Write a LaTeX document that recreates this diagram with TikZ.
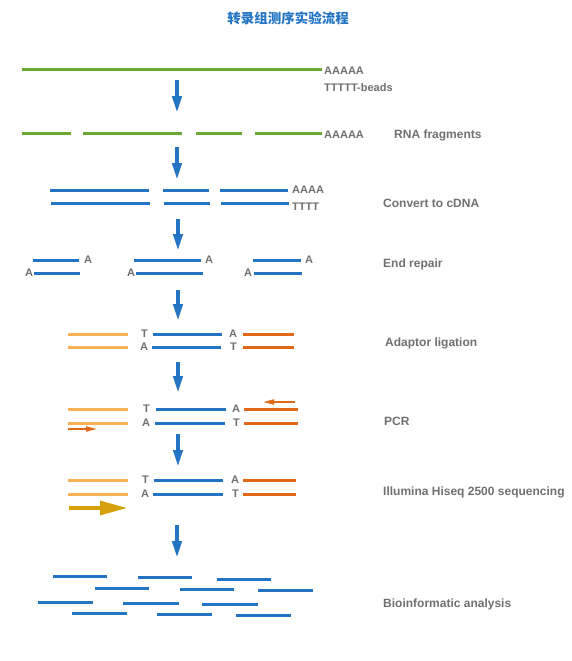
\documentclass[tikz,border=0pt]{standalone}
\usepackage{fontspec}
\setmainfont{Liberation Sans}
\newfontfamily\cjk{Noto Sans CJK SC}
\usetikzlibrary{arrows.meta}
\definecolor{rnagreen}{RGB}{104,168,52}
\definecolor{dnablue}{RGB}{36,116,196}
\definecolor{adlight}{RGB}{250,176,84}
\definecolor{addark}{RGB}{224,104,24}
\definecolor{seqgold}{RGB}{214,160,12}
\definecolor{txtgray}{RGB}{112,112,112}
\tikzset{
	rnaline/.style={draw=rnagreen, line width=3pt},
	dnaline/.style={draw=dnablue, line width=3pt},
	lightline/.style={draw=adlight, line width=3pt},
	darkline/.style={draw=addark, line width=3pt},
	lbl/.style={anchor=west, inner sep=0pt, text=txtgray, text height=7.9pt, text depth=0pt, font=\bfseries\fontsize{11}{13}\selectfont},
	steplbl/.style={lbl, text height=8.6pt, font=\bfseries\fontsize{12}{14}\selectfont},
	steparrow/.style={draw=dnablue, line width=3.8pt, -{Triangle[width=9pt,length=17pt]}},
	primer/.style={draw=addark, line width=1.8pt, -{Triangle[width=5pt,length=11pt]}},
}
\begin{document}
\begin{tikzpicture}[x=1pt, y=-1pt]
	\useasboundingbox (0,0) rectangle (572,661);
	\def\xs{383};
	\node[inner sep=0pt, text=dnablue, font=\cjk\bfseries\fontsize{13.5}{15}\selectfont] (title) at (288,18) {转录组测序实验流程};
	
	\draw[rnaline] (22,70) -- (322,70);
	\node[lbl] (polyA) at (324,71) {AAAAA};
	\node[lbl] (beads) at (324,88) {TTTTT-beads};
	
	\draw[rnaline] (22,133) -- (71,133);
	\draw[rnaline] (83,133) -- (182,133);
	\draw[rnaline] (196,133) -- (242,133);
	\draw[rnaline] (255,133) -- (322,133);
	\node[lbl] (fragA) at (324,135) {AAAAA};
	\node[steplbl] (frag) at (394,134) {RNA fragments};
	
	\draw[dnaline] (50,190) -- (149,190);
	\draw[dnaline] (163,190) -- (209,190);
	\draw[dnaline] (220,190) -- (288,190);
	\draw[dnaline] (51,203) -- (150,203);
	\draw[dnaline] (164,203) -- (210,203);
	\draw[dnaline] (221,203) -- (289,203);
	\node[lbl] (cdnaA) at (292,190) {AAAA};
	\node[lbl] (cdnaT) at (292,207) {TTTT};
	\node[steplbl] (cdna) at (\xs,203) {Convert to cDNA};
	
	\draw[dnaline] (33,260) -- (79,260);
	\draw[dnaline] (34,273) -- (80,273);
	\node[lbl] (erA1) at (84,260) {A};
	\node[lbl] (erA2) at (25,273) {A};
	\draw[dnaline] (134,260) -- (201,260);
	\draw[dnaline] (136,273) -- (203,273);
	\node[lbl] (erA3) at (205,260) {A};
	\node[lbl] (erA4) at (127,273) {A};
	\draw[dnaline] (253,260) -- (301,260);
	\draw[dnaline] (254,273) -- (302,273);
	\node[lbl] (erA5) at (305,260) {A};
	\node[lbl] (erA6) at (244,273) {A};
	\node[steplbl] (repair) at (\xs,263) {End repair};
	
	\draw[lightline] (68,334) -- (128,334);
	\draw[lightline] (68,347) -- (128,347);
	\node[lbl] (alT1) at (141,334) {T};
	\node[lbl] (alA1) at (140,347) {A};
	\draw[dnaline] (153,334) -- (222,334);
	\draw[dnaline] (152,347) -- (221,347);
	\node[lbl] (alA2) at (229,334) {A};
	\node[lbl] (alT2) at (230,347) {T};
	\draw[darkline] (243,334) -- (294,334);
	\draw[darkline] (243,347) -- (294,347);
	\node[steplbl] (ligation) at (385,342) {Adaptor ligation};
	
	\draw[lightline] (68,409) -- (128,409);
	\draw[lightline] (68,423) -- (128,423);
	\node[lbl] (pcT1) at (143,409) {T};
	\node[lbl] (pcA1) at (142,423) {A};
	\draw[dnaline] (156,409) -- (226,409);
	\draw[dnaline] (155,423) -- (225,423);
	\node[lbl] (pcA2) at (232,409) {A};
	\node[lbl] (pcT2) at (233,423) {T};
	\draw[darkline] (244,409) -- (298,409);
	\draw[darkline] (244,423) -- (298,423);
	\draw[primer] (295,402) -- (263,402);
	\draw[primer] (68,429) -- (97,429);
	\node[steplbl] (pcr) at (384,421) {PCR};
	
	\draw[lightline] (68,480) -- (128,480);
	\draw[lightline] (68,494) -- (128,494);
	\node[lbl] (sqT1) at (142,480) {T};
	\node[lbl] (sqA1) at (141,494) {A};
	\draw[dnaline] (154,480) -- (223,480);
	\draw[dnaline] (153,494) -- (223,494);
	\node[lbl] (sqA2) at (231,480) {A};
	\node[lbl] (sqT2) at (232,494) {T};
	\draw[darkline] (243,480) -- (296,480);
	\draw[darkline] (243,494) -- (296,494);
	\draw[draw=seqgold, line width=3.2pt, -{Triangle[width=14pt,length=27pt]}] (69,508) -- (127,508);
	\node[steplbl] (hiseq) at (\xs,491) {Illumina Hiseq 2500 sequencing};
	
	\foreach \xa/\xb/\yr in {53/107/576, 138/192/577, 217/271/579, 95/149/588, 180/234/589, 258/313/590, 38/93/602, 123/179/603, 202/258/604, 72/127/613, 157/212/614, 236/291/615}
		\draw[dnablue, line width=3pt] (\xa,\yr) -- (\xb,\yr);
	\node[steplbl] (bioinfo) at (\xs,603) {Bioinformatic analysis};
	
	\foreach \xa/\ys/\ye in {177/80/113, 177/147/180, 178/219/251, 178/290/321, 178/362/393, 178/434/467, 177/525/558}
		\draw[steparrow] (\xa,\ys) -- (\xa,\ye);
\end{tikzpicture}
\end{document}
